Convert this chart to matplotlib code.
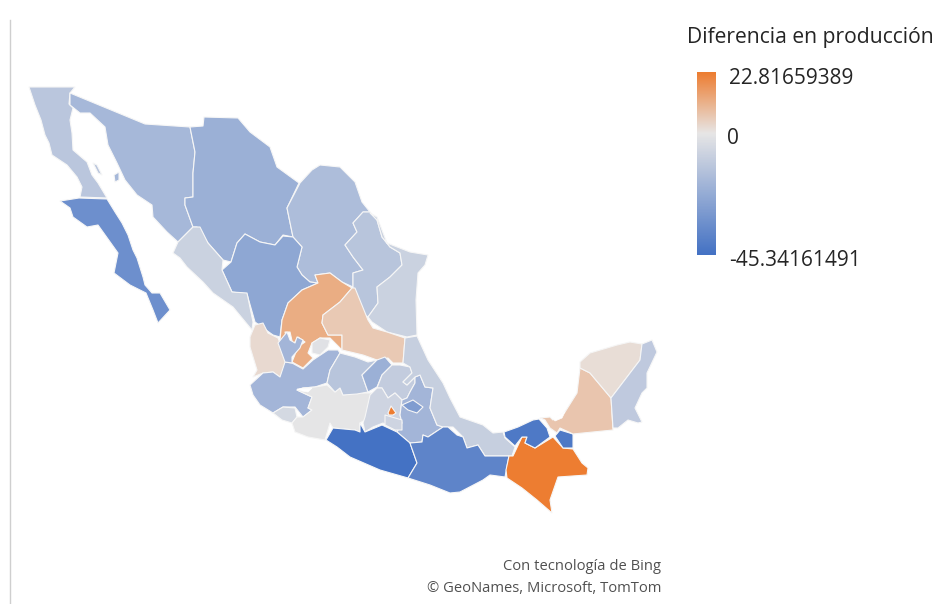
import numpy as np
import matplotlib.pyplot as plt
from matplotlib.colors import LinearSegmentedColormap, TwoSlopeNorm
from matplotlib.patches import Polygon

plt.rcParams['font.family'] = ['Open Sans', 'DejaVu Sans']

vmin = -45.34161491
vmax = 22.81659389

# state outlines, in image pixels
baja_california = [[(29,87),(75,87),(70,93),(69,104),(73,108),(70,120),(72,133),(73,150),(87,162),(92,175),(98,183),(107,198),(80,197),(82,187),(77,177),(67,165),(52,155),(49,143),(45,135),(41,120),(35,105)],
                   [(93,163),(97,165),(102,175),(98,173)]]
baja_sur = [[(60,201),(79,198),(107,199),(115,212),(122,223),(128,235),(133,250),(137,258),(143,277),(145,285),(152,293),(160,293),(170,310),(158,323),(153,310),(146,293),(130,285),(114,273),(118,253),(98,225),(87,227),(73,217),(70,208)]]
sonora = [[(70,93),(145,124),(190,127),(195,152),(193,173),(193,197),(185,198),(185,205),(193,227),(178,242),(167,232),(153,217),(152,205),(137,195),(125,180),(117,163),(108,145),(105,127),(90,113),(80,113),(70,105)],
          [(114,175),(119,172),(119,180),(115,182)]]
chihuahua = [[(190,127),(203,126),(204,117),(238,118),(250,132),(270,147),(277,167),(299,183),(287,208),(293,237),(283,235),(275,245),(260,242),(245,234),(237,243),(231,262),(223,260),(208,243),(197,227),(193,227),(185,205),(185,198),(193,197),(193,173),(195,152)]]
coahuila = [[(300,183),(312,170),(320,165),(340,167),(355,182),(362,202),(370,212),(363,212),(353,223),(357,232),(345,245),(353,257),(363,270),(353,273),(353,287),(342,282),(330,273),(315,275),(318,283),(310,282),(302,275),(297,267),(302,247),(293,237),(287,208)]]
nuevo_leon = [[(370,212),(377,220),(382,237),(390,247),(400,253),(402,265),(390,277),(377,287),(378,303),(368,317),(362,313),(353,288),(353,273),(363,270),(353,257),(345,245),(357,232),(353,223),(363,212)]]
tamaulipas = [[(370,213),(377,217),(387,243),(410,252),(428,255),(425,265),(418,273),(416,300),(417,335),(407,337),(387,332),(372,322),(368,317),(378,303),(377,287),(390,277),(402,265),(400,253),(390,247),(382,237),(377,220)]]
durango = [[(231,262),(237,243),(245,234),(260,242),(275,245),(283,236),(293,237),(302,247),(297,267),(302,275),(310,282),(318,283),(302,290),(288,303),(282,320),(280,337),(273,335),(255,322),(247,294),(232,292),(222,270)]]
sinaloa = [[(173,253),(178,242),(193,227),(200,227),(208,243),(223,260),(222,270),(232,292),(247,293),(253,322),(252,330),(233,307),(213,293),(203,282),(187,267),(180,258)]]
nayarit = [[(255,325),(263,323),(268,333),(278,338),(280,343),(287,362),(280,377),(273,372),(263,373),(253,377),(257,370),(250,347),(250,337)]]
zacatecas = [[(315,275),(330,273),(342,282),(352,288),(340,302),(323,315),(322,323),(328,335),(342,335),(342,350),(330,338),(320,338),(312,343),(308,353),(313,358),(303,368),(292,362),(298,347),(305,342),(298,337),(293,345),(290,332),(285,332),(287,340),(280,340),(282,320),(288,303),(302,290),(318,283)]]
san_luis = [[(352,288),(355,288),(368,320),(373,328),(387,332),(405,338),(403,363),(393,363),(388,358),(377,360),(363,355),(342,350),(342,335),(328,335),(322,323),(323,315),(340,302)]]
aguascalientes = [[(312,343),(320,338),(330,340),(328,347),(320,355),(312,353)]]
jalisco = [[(250,385),(263,373),(273,372),(280,377),(285,362),(292,363),(303,369),(313,360),(328,350),(338,350),(340,353),(330,370),(327,383),(315,387),(303,388),(297,390),(312,397),(308,408),(312,410),(303,417),(295,407),(283,407),(273,413),(260,405),(253,395)],
           [(278,343),(287,332),(290,340),(295,343),(297,337),(303,340),(300,348),(292,357),(292,363),(285,362)]]
colima = [[(273,413),(283,407),(295,408),(297,417),(292,423),(282,420)]]
michoacan = [[(297,390),(303,388),(315,387),(327,385),(335,392),(340,388),(343,395),(357,393),(372,393),(365,420),(360,423),(360,432),(355,430),(333,428),(330,423),(325,440),(308,437),(295,432),(292,423),(297,417),(303,417),(312,410),(308,408),(312,397)]]
guanajuato = [[(340,353),(355,357),(368,362),(377,360),(362,375),(368,392),(357,394),(343,395),(340,388),(335,392),(327,383),(330,370)]]
queretaro = [[(377,360),(385,357),(392,365),(382,375),(377,387),(368,392),(362,375)]]
hidalgo = [[(392,365),(400,365),(410,367),(412,373),(403,382),(407,385),(415,377),(415,383),(410,392),(407,398),(402,400),(395,393),(388,398),(382,388),(377,388),(382,375)]]
edomex = [[(377,388),(382,388),(388,398),(395,393),(402,400),(400,415),(402,423),(397,432),(390,427),(383,423),(373,427),(365,432),(363,423),(365,417),(370,395)]]
morelos = [[(385,415),(402,420),(402,430),(395,430),(385,425)]]
cdmx = [[(388,413),(391,406),(396,413),(393,415),(389,415)]]
tlaxcala = [[(402,405),(413,400),(423,407),(417,413),(408,410)]]
puebla = [[(415,377),(420,375),(425,387),(433,388),(430,408),(437,425),(443,427),(428,437),(423,435),(422,442),(410,443),(397,432),(402,423),(400,415),(402,400),(407,398),(410,392),(415,383)]]
veracruz = [[(405,338),(417,336),(428,360),(443,383),(450,398),(460,417),(483,425),(493,433),(503,432),(505,438),(515,447),(512,456),(485,456),(478,445),(467,448),(463,437),(453,427),(443,427),(437,425),(430,408),(433,388),(425,387),(420,375),(415,377),(407,385),(403,382),(412,373),(410,367),(403,363)]]
guerrero = [[(326,440),(333,428),(355,430),(360,432),(360,423),(365,432),(382,425),(397,432),(410,443),(417,463),(408,478),(380,470),(350,457),(337,447)]]
oaxaca = [[(410,443),(422,442),(423,435),(428,437),(443,427),(448,427),(457,435),(463,437),(467,448),(478,445),(485,456),(509,456),(505,477),(490,475),(483,480),(460,492),(450,493),(430,485),(408,478),(417,463)]]
chiapas = [[(509,456),(513,456),(522,437),(527,437),(525,443),(535,448),(553,437),(563,448),(573,449),(582,463),(588,468),(587,475),(558,477),(550,500),(552,513),(537,500),(522,488),(507,478),(506,470)]]
tabasco = [[(504,432),(518,427),(533,420),(539,419),(547,428),(550,437),(535,448),(525,443),(527,437),(522,437),(515,446),(505,437)],
           [(560,430),(573,434),(573,448),(563,448),(555,436)]]
campeche = [[(540,418),(550,417),(553,420),(565,412),(577,393),(580,368),(590,373),(611,398),(613,430),(573,434),(560,428),(557,433),(550,428),(545,420)]]
yucatan = [[(580,362),(590,353),(617,345),(630,342),(642,344),(640,360),(611,398),(590,373),(580,368)]]
quintana_roo = [[(642,344),(652,340),(657,352),(647,373),(647,388),(642,393),(635,408),(642,422),(638,423),(628,420),(618,428),(613,428),(611,398),(640,360)]]

# lakes and lagoons
chapala = [(297,389),(312,388),(308,392),(302,391)]
terminos = [(553,418),(565,412),(562,418),(555,421)]

# (outline, difference) estimated from the fill colours
states = [
    (baja_california, -12.5), (baja_sur, -34), (sonora, -18), (chihuahua, -21),
    (coahuila, -16), (nuevo_leon, -13), (tamaulipas, -8), (durango, -24.5),
    (sinaloa, -8), (nayarit, 2.8), (zacatecas, 12.4), (san_luis, 6.3),
    (aguascalientes, -2), (jalisco, -19), (colima, -5), (michoacan, -0.5),
    (guanajuato, -13), (queretaro, -21), (hidalgo, -10), (edomex, -7),
    (puebla, -19), (morelos, -7), (tlaxcala, -29), (cdmx, 22.8),
    (veracruz, -9), (guerrero, -45.3), (oaxaca, -38), (chiapas, 22.8),
    (tabasco, -42.5), (campeche, 7), (yucatan, 2), (quintana_roo, -11),
]

cmap = LinearSegmentedColormap.from_list('dif', ['#4472C4', '#E7E6E6', '#ED7D31'])
norm = TwoSlopeNorm(vmin=vmin, vcenter=0, vmax=vmax)

fig = plt.figure(figsize=(9.53, 6.04), dpi=100)
ax = fig.add_axes([0, 0, 1, 1])
ax.set_xlim(0, 953)
ax.set_ylim(604, 0)
ax.axis('off')

for outline, value in states:
    for part in outline:
        ax.add_patch(Polygon(part, closed=True, facecolor=cmap(norm(value)),
                             edgecolor='#F6F6F6', linewidth=0.8, joinstyle='round'))
for lake in [chapala, terminos]:
    ax.add_patch(Polygon(lake, closed=True, facecolor='white', edgecolor='white', linewidth=0.5))

# legend gradient
grad = np.linspace(vmax, vmin, 256).reshape(-1, 1)
ax.imshow(grad, cmap=cmap, norm=norm, extent=(697, 716, 255, 72), aspect='auto', zorder=3)
ax.set_xlim(0, 953)
ax.set_ylim(604, 0)

ax.text(687, 37, 'Diferencia en producción', fontsize=15.2, color='#252525', va='center')
ax.text(729, 79, f'{vmax:.8f}', fontsize=15, color='#252525', va='center')
ax.text(727, 139, '0', fontsize=15, color='#252525', va='center')
ax.text(729, 260, f'{vmin:.8f}', fontsize=15, color='#252525', va='center')

ax.text(661, 567, 'Con tecnología de Bing', fontsize=10.6, color='#505050', ha='right', va='center')
ax.text(661, 589, '© GeoNames, Microsoft, TomTom', fontsize=10.6, color='#505050', ha='right', va='center')

ax.plot([10, 10], [20, 604], color='#CFCFCF', linewidth=1)

fig.savefig('out.png', dpi=100)
